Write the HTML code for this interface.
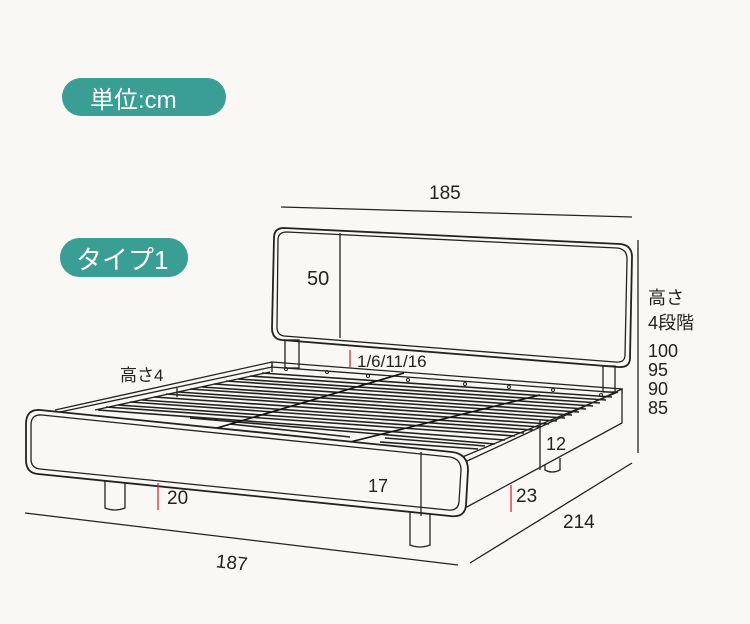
<!DOCTYPE html>
<html><head><meta charset="utf-8"><style>
body{margin:0;background:#f9f8f4;}
svg{display:block}
text{font-family:"Liberation Sans","Noto Sans CJK JP",sans-serif;fill:#222}
</style></head><body>
<svg width="750" height="624" viewBox="0 0 750 624" xmlns="http://www.w3.org/2000/svg">
<rect width="750" height="624" fill="#f9f8f4"/>
<rect x="62" y="78" width="164" height="38" rx="19" fill="#3a9e94"/>
<text x="90" y="108" font-size="24" style="fill:#fff">単位:cm</text>
<rect x="60" y="238" width="128" height="39" rx="19.5" fill="#3a9e94"/>
<text x="76" y="269" font-size="26" style="fill:#fff">タイプ1</text>

<g fill="none" stroke="#222" stroke-width="1.3">
<line x1="281" y1="207" x2="632" y2="217"/>
<line x1="638" y1="240" x2="638" y2="453"/>
<line x1="25" y1="513" x2="458" y2="565"/>
<line x1="470" y1="563" x2="632" y2="463"/>
<path d="M284 228 L620 244 Q632 245 632 257 L630 358 Q630 368 618 367 L282 340 Q272 339 272 328 L274 238 Q274 228 284 228 Z" stroke-width="1.8"/>
<path d="M287 232 L617 248 Q627 249 627 259 L625 355 Q625 363 615 362 L284 336 Q277 335 277 327 L278 240 Q278 232 287 232 Z"/>
<line x1="340" y1="233" x2="340" y2="338"/>
<rect x="285" y="340" width="14" height="28"/>
<rect x="603" y="366" width="12" height="26"/>
<path d="M272 362 L622 389 L622 393 L272 367 Z"/>
<line x1="272" y1="362" x2="272" y2="372"/>
<path d="M272 362 L55 410 M272 367 L60 412 M270 372 L95 410"/>
<line x1="177" y1="388" x2="177" y2="397"/>
<!-- legs (behind panel) -->
<path d="M105 470 L105 508 Q115 512 125 508 L125 470" fill="#f9f8f4"/>
<path d="M410 505 L410 545 Q420 549 430 545 L430 505" fill="#f9f8f4"/>
<path d="M545 462 L545 470 Q552 474 560 470 L560 458" fill="#f9f8f4"/>
<path d="M465 462 L622 389 L622 423 L465 508 Z" fill="#f9f8f4"/>
<path d="M460 458 L618 392"/>
<line x1="540" y1="420" x2="540" y2="470"/>
</g>
<!-- slats -->
<g stroke="#222" stroke-width="1.6">
<line x1="262" y1="373" x2="612" y2="397"/>
<line x1="250" y1="376" x2="606" y2="400"/>
<line x1="238" y1="379" x2="600" y2="403"/>
<line x1="226" y1="381" x2="593" y2="406"/>
<line x1="214" y1="384" x2="586" y2="409"/>
<line x1="202" y1="387" x2="579" y2="412"/>
<line x1="190" y1="389" x2="572" y2="415"/>
<line x1="178" y1="392" x2="565" y2="418"/>
<line x1="166" y1="394" x2="557" y2="421"/>
<line x1="154" y1="397" x2="549" y2="424"/>
<line x1="142" y1="400" x2="541" y2="427"/>
<line x1="130" y1="402" x2="533" y2="430"/>
<line x1="118" y1="405" x2="524" y2="433"/>
<line x1="106" y1="407" x2="515" y2="436"/>
<line x1="98" y1="410" x2="505" y2="440"/>
<line x1="190" y1="418" x2="495" y2="444"/>
<line x1="230" y1="424" x2="350" y2="437"/>
<line x1="385" y1="438" x2="485" y2="446"/>
<line x1="380" y1="442" x2="478" y2="449"/>
</g>
<g stroke="#111" stroke-width="1.6" fill="none">
<path d="M217 428 L404 373"/>
<path d="M350 442 L540 395"/>
</g>
<g fill="none" stroke="#222" stroke-width="1">
<circle cx="286" cy="369" r="1.5"/><circle cx="327" cy="372" r="1.5"/><circle cx="368" cy="376" r="1.5"/>
<circle cx="408" cy="380" r="1.5"/><circle cx="465" cy="384" r="1.5"/><circle cx="509" cy="387" r="1.5"/>
<circle cx="553" cy="390" r="1.5"/><circle cx="601" cy="395" r="1.5"/>
</g>
<!-- front panel -->
<g fill="none" stroke="#222" stroke-width="1.3">
<path d="M40 410 L452 452 Q468 454 468 470 L466 505 Q465 518 450 516 L38 474 Q26 473 26 460 L26 424 Q26 409 40 410 Z" stroke-width="1.8" fill="#f9f8f4"/>
<path d="M42 415 L450 457 Q461 459 461 470 L459 502 Q458 511 448 510 L40 469 Q31 468 31 459 L31 425 Q31 414 42 415 Z"/>
<line x1="421" y1="452" x2="421" y2="516"/>
</g>
<g stroke="#d0202a" stroke-width="1.2">
<line x1="350" y1="350" x2="350" y2="368"/>
<line x1="158" y1="483" x2="158" y2="510"/>
<line x1="511" y1="485" x2="511" y2="512"/>
</g>
<text x="429" y="199" font-size="19">185</text>
<text x="307" y="285" font-size="20">50</text>
<text x="357" y="367" font-size="17">1/6/11/16</text>
<text x="120" y="381" font-size="17">高さ4</text>
<text x="648" y="304" font-size="18">高さ</text>
<text x="648" y="329" font-size="18">4段階</text>
<text x="648" y="357" font-size="18">100</text>
<text x="648" y="376" font-size="18">95</text>
<text x="648" y="395" font-size="18">90</text>
<text x="648" y="414" font-size="18">85</text>
<text x="546" y="450" font-size="18">12</text>
<text x="368" y="492" font-size="18">17</text>
<text x="167" y="504" font-size="19">20</text>
<text x="516" y="502" font-size="19">23</text>
<text x="563" y="528" font-size="19">214</text>
<text x="216" y="569" font-size="19" transform="rotate(6 232 562)">187</text>
</svg>
</body></html>
